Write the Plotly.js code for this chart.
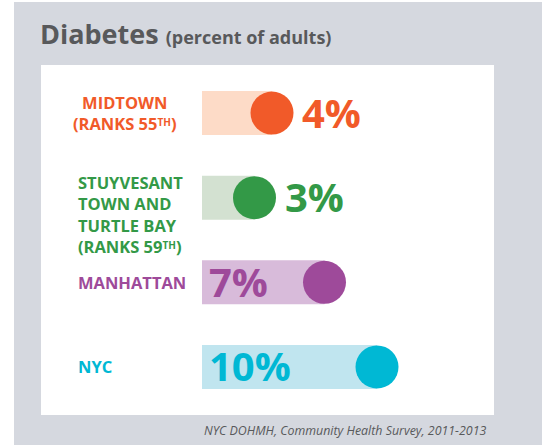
<!DOCTYPE html>
<html>
<head>
<meta charset="utf-8">
<script src="https://cdn.plot.ly/plotly-3.0.1.min.js"></script>
<style>
  html, body { margin: 0; padding: 0; background: #fff; }
  #chart { width: 542px; height: 445px; }
</style>
</head>
<body>
<div id="chart"></div>
<script>
// data
var areas = ['Midtown', 'Stuyvesant Town and Turtle Bay', 'Manhattan', 'NYC'];
var labels = [
  'MIDTOWN<br>(RANKS 55<span style="font-size:10px;baseline-shift:4px">TH</span>)',
  'STUYVESANT<br>TOWN AND<br>TURTLE BAY<br>(RANKS 59<span style="font-size:10px;baseline-shift:4px">TH</span>)',
  'MANHATTAN',
  'NYC'
];
var pct = [4, 3, 7, 10];
var dark = ['#f15a29', '#339947', '#9e4a9a', '#00b8d4'];
var light = ['#fddbc7', '#d3e1d1', '#d8bbda', '#c0e5ef'];

var W = 542, H = 445;
var font = 'Open Sans, Noto Sans, sans-serif';

// light bar from 0 to the value
var bars = {
  type: 'bar',
  orientation: 'h',
  y: areas,
  x: pct,
  base: 0,
  width: 0.52,
  marker: { color: light, line: { width: 0 } },
  hoverinfo: 'skip'
};

// dot at the end of each bar
var dots = {
  type: 'scatter',
  mode: 'markers',
  y: areas,
  x: pct,
  marker: { size: 43, color: dark, line: { width: 0 } },
  cliponaxis: false,
  hoverinfo: 'skip'
};

var annotations = [];
for (var i = 0; i < areas.length; i++) {
  var inside = pct[i] >= 5;
  annotations.push({
    x: inside ? 0 : pct[i],
    y: areas[i],
    xref: 'x', yref: 'y',
    xanchor: 'left', yanchor: 'middle',
    xshift: inside ? 5 : 28,
    yshift: 1,
    text: '<b>' + pct[i] + '%</b>',
    showarrow: false,
    font: { family: font, size: 40, color: dark[i] }
  });

  var nLines = labels[i].split('<br>').length;
  var midtown = i === 0;
  annotations.push({
    x: midtown ? 125 / W : 76 / W,
    y: areas[i],
    xref: 'paper', yref: 'y',
    xanchor: midtown ? 'center' : 'left',
    align: midtown ? 'center' : 'left',
    yanchor: nLines > 2 ? 'top' : 'middle',
    yshift: nLines > 2 ? 29 : 0,
    text: '<b>' + labels[i] + '</b>',
    showarrow: false,
    font: { family: font, size: 16.5, color: dark[i] }
  });
}

// source line
annotations.push({
  x: 488 / W, y: 1 - 430 / H,
  xref: 'paper', yref: 'paper',
  xanchor: 'right', yanchor: 'middle',
  text: '<i>NYC DOHMH, Community Health Survey, 2011-2013</i>',
  showarrow: false,
  font: { family: font, size: 12.4, color: '#58595b' }
});

var layout = {
  width: W,
  height: H,
  margin: { l: 0, r: 0, t: 0, b: 0 },
  paper_bgcolor: '#ffffff',
  plot_bgcolor: 'rgba(0,0,0,0)',
  showlegend: false,
  title: {
    text: '<b>Diabetes</b> <span style="font-size:18px"><b>(percent of adults)</b></span>',
    x: 40 / W, xanchor: 'left',
    y: 1 - 35 / H, yanchor: 'middle',
    font: { family: font, size: 27, color: '#58595b' }
  },
  xaxis: {
    domain: [202 / W, 447 / W],
    range: [0, 14],
    showgrid: false, zeroline: false, showticklabels: false, showline: false,
    fixedrange: true
  },
  yaxis: {
    domain: [1 - 409.3 / H, 1 - 70.7 / H],
    range: [3.5, -0.5],
    type: 'category',
    showgrid: false, zeroline: false, showticklabels: false, showline: false,
    fixedrange: true
  },
  shapes: [
    { type: 'rect', xref: 'paper', yref: 'paper', layer: 'below',
      x0: 14 / W, x1: 1, y0: 0, y1: 1 - 2 / H,
      fillcolor: '#d5d8df', line: { width: 0 } },
    { type: 'rect', xref: 'paper', yref: 'paper', layer: 'below',
      x0: 41 / W, x1: 494 / W, y0: 1 - 415 / H, y1: 1 - 65 / H,
      fillcolor: '#ffffff', line: { width: 0 } }
  ],
  annotations: annotations
};

Plotly.newPlot('chart', [bars, dots], layout, { staticPlot: true, displayModeBar: false });
</script>
</body>
</html>
